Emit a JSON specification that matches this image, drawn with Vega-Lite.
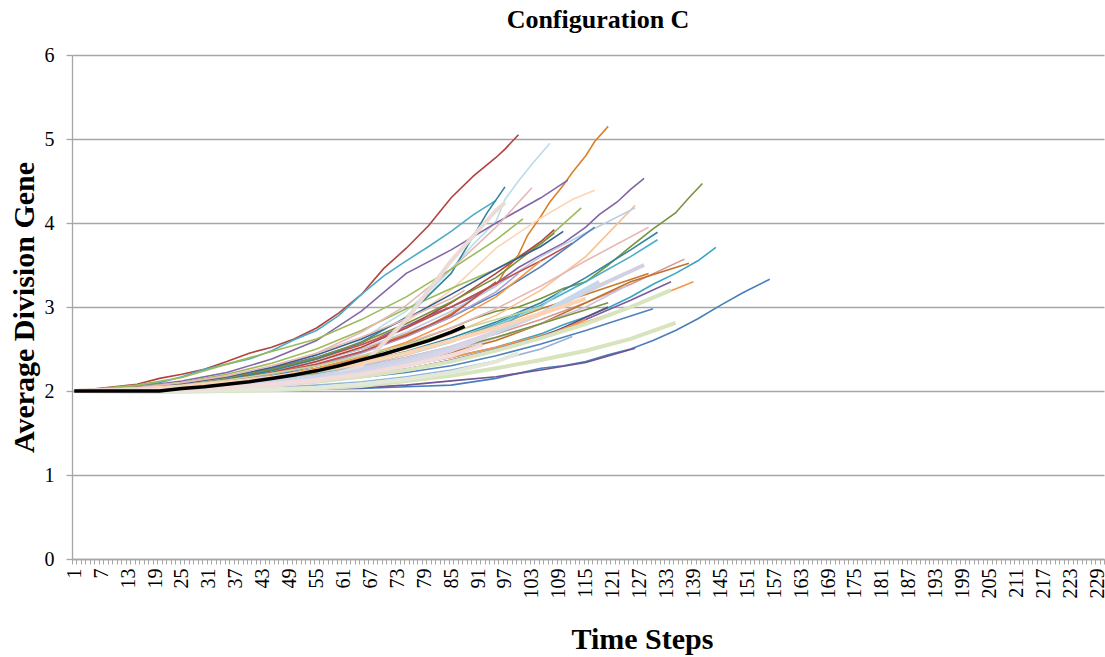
{
"$schema":"https://vega.github.io/schema/vega-lite/v6.json",
"width":1032,"height":504,
"autosize":{"type":"none"},
"padding":{"left":72,"top":55,"right":1,"bottom":98},
"background":"white",
"config":{"view":{"stroke":null},"font":"Liberation Serif","axis":{"labelFont":"Liberation Serif","labelFontSize":20,"labelColor":"#000"}},
"title":{"text":"Configuration C","font":"Liberation Serif","fontSize":26,"fontWeight":"bold","color":"#000","anchor":"middle","dx":10,"offset":12},
"data":{"values":[
{"s":"a01","t":1,"v":2},{"s":"a01","t":15,"v":2.08},{"s":"a01","t":25,"v":2.2},{"s":"a01","t":35,"v":2.35},{"s":"a01","t":45,"v":2.52},{"s":"a01","t":55,"v":2.75},{"s":"a01","t":65,"v":3.15},{"s":"a01","t":75,"v":3.7},{"s":"a01","t":85,"v":4.3},{"s":"a01","t":95,"v":4.78},{"s":"a01","t":100,"v":5.05},
{"s":"a02","t":1,"v":2},{"s":"a02","t":15,"v":2.06},{"s":"a02","t":25,"v":2.17},{"s":"a02","t":35,"v":2.32},{"s":"a02","t":45,"v":2.48},{"s":"a02","t":55,"v":2.72},{"s":"a02","t":65,"v":3.15},{"s":"a02","t":75,"v":3.55},{"s":"a02","t":85,"v":3.9},{"s":"a02","t":95,"v":4.27},
{"s":"a03","t":1,"v":2},{"s":"a03","t":15,"v":2.02},{"s":"a03","t":25,"v":2.06},{"s":"a03","t":35,"v":2.12},{"s":"a03","t":45,"v":2.22},{"s":"a03","t":55,"v":2.36},{"s":"a03","t":65,"v":2.6},{"s":"a03","t":75,"v":2.95},{"s":"a03","t":85,"v":3.45},{"s":"a03","t":95,"v":4.02},{"s":"a03","t":100,"v":4.5},{"s":"a03","t":107,"v":4.95},
{"s":"a04","t":1,"v":2},{"s":"a04","t":15,"v":2.02},{"s":"a04","t":25,"v":2.06},{"s":"a04","t":35,"v":2.13},{"s":"a04","t":45,"v":2.22},{"s":"a04","t":55,"v":2.35},{"s":"a04","t":65,"v":2.5},{"s":"a04","t":75,"v":2.68},{"s":"a04","t":85,"v":2.92},{"s":"a04","t":95,"v":3.25},{"s":"a04","t":100,"v":3.62},{"s":"a04","t":105,"v":4.08},{"s":"a04","t":110,"v":4.45},{"s":"a04","t":115,"v":4.8},{"s":"a04","t":120,"v":5.15},
{"s":"a05","t":1,"v":2},{"s":"a05","t":15,"v":2.03},{"s":"a05","t":25,"v":2.08},{"s":"a05","t":35,"v":2.16},{"s":"a05","t":45,"v":2.27},{"s":"a05","t":55,"v":2.4},{"s":"a05","t":65,"v":2.57},{"s":"a05","t":75,"v":2.77},{"s":"a05","t":85,"v":3.0},{"s":"a05","t":95,"v":3.28},{"s":"a05","t":105,"v":3.62},{"s":"a05","t":115,"v":3.95},{"s":"a05","t":122,"v":4.25},{"s":"a05","t":128,"v":4.53},
{"s":"a06","t":1,"v":2},{"s":"a06","t":15,"v":2.05},{"s":"a06","t":25,"v":2.12},{"s":"a06","t":35,"v":2.22},{"s":"a06","t":45,"v":2.38},{"s":"a06","t":55,"v":2.6},{"s":"a06","t":65,"v":2.95},{"s":"a06","t":75,"v":3.4},{"s":"a06","t":85,"v":3.68},{"s":"a06","t":95,"v":4.0},{"s":"a06","t":105,"v":4.3},{"s":"a06","t":111,"v":4.51},
{"s":"a07","t":1,"v":2},{"s":"a07","t":15,"v":2.02},{"s":"a07","t":25,"v":2.06},{"s":"a07","t":35,"v":2.12},{"s":"a07","t":45,"v":2.22},{"s":"a07","t":55,"v":2.36},{"s":"a07","t":65,"v":2.55},{"s":"a07","t":75,"v":2.82},{"s":"a07","t":85,"v":3.2},{"s":"a07","t":95,"v":3.7},{"s":"a07","t":105,"v":4.06},{"s":"a07","t":112,"v":4.28},{"s":"a07","t":117,"v":4.39},
{"s":"a08","t":1,"v":2},{"s":"a08","t":15,"v":2.02},{"s":"a08","t":25,"v":2.05},{"s":"a08","t":35,"v":2.1},{"s":"a08","t":45,"v":2.17},{"s":"a08","t":55,"v":2.27},{"s":"a08","t":65,"v":2.4},{"s":"a08","t":75,"v":2.56},{"s":"a08","t":85,"v":2.75},{"s":"a08","t":95,"v":2.95},{"s":"a08","t":105,"v":3.1},{"s":"a08","t":115,"v":3.3},{"s":"a08","t":125,"v":3.72},{"s":"a08","t":135,"v":4.12},{"s":"a08","t":141,"v":4.47},
{"s":"a09","t":1,"v":2},{"s":"a09","t":15,"v":2.02},{"s":"a09","t":25,"v":2.05},{"s":"a09","t":35,"v":2.1},{"s":"a09","t":45,"v":2.16},{"s":"a09","t":55,"v":2.25},{"s":"a09","t":65,"v":2.36},{"s":"a09","t":75,"v":2.5},{"s":"a09","t":85,"v":2.68},{"s":"a09","t":95,"v":2.9},{"s":"a09","t":105,"v":3.2},{"s":"a09","t":115,"v":3.6},{"s":"a09","t":126,"v":4.21},
{"s":"a10","t":1,"v":2},{"s":"a10","t":15,"v":2.03},{"s":"a10","t":25,"v":2.07},{"s":"a10","t":35,"v":2.14},{"s":"a10","t":45,"v":2.23},{"s":"a10","t":55,"v":2.35},{"s":"a10","t":65,"v":2.5},{"s":"a10","t":75,"v":2.7},{"s":"a10","t":85,"v":2.95},{"s":"a10","t":95,"v":3.25},{"s":"a10","t":105,"v":3.6},{"s":"a10","t":115,"v":3.88},{"s":"a10","t":126,"v":4.18},
{"s":"a11","t":1,"v":2},{"s":"a11","t":15,"v":2.05},{"s":"a11","t":25,"v":2.1},{"s":"a11","t":35,"v":2.2},{"s":"a11","t":45,"v":2.33},{"s":"a11","t":55,"v":2.5},{"s":"a11","t":65,"v":2.72},{"s":"a11","t":75,"v":2.98},{"s":"a11","t":85,"v":3.22},{"s":"a11","t":95,"v":3.45},{"s":"a11","t":105,"v":3.75},{"s":"a11","t":114,"v":4.18},
{"s":"a12","t":1,"v":2},{"s":"a12","t":15,"v":2.02},{"s":"a12","t":25,"v":2.05},{"s":"a12","t":35,"v":2.1},{"s":"a12","t":45,"v":2.16},{"s":"a12","t":55,"v":2.24},{"s":"a12","t":65,"v":2.34},{"s":"a12","t":75,"v":2.47},{"s":"a12","t":85,"v":2.63},{"s":"a12","t":95,"v":2.82},{"s":"a12","t":105,"v":3.05},{"s":"a12","t":115,"v":3.35},{"s":"a12","t":125,"v":3.68},{"s":"a12","t":131,"v":3.89},
{"s":"a13","t":1,"v":2},{"s":"a13","t":15,"v":2.03},{"s":"a13","t":25,"v":2.06},{"s":"a13","t":35,"v":2.12},{"s":"a13","t":45,"v":2.2},{"s":"a13","t":55,"v":2.3},{"s":"a13","t":65,"v":2.42},{"s":"a13","t":75,"v":2.57},{"s":"a13","t":85,"v":2.75},{"s":"a13","t":95,"v":2.98},{"s":"a13","t":105,"v":3.25},{"s":"a13","t":115,"v":3.55},{"s":"a13","t":129,"v":3.95},
{"s":"a14","t":1,"v":2},{"s":"a14","t":15,"v":2.02},{"s":"a14","t":25,"v":2.05},{"s":"a14","t":35,"v":2.09},{"s":"a14","t":45,"v":2.15},{"s":"a14","t":55,"v":2.22},{"s":"a14","t":65,"v":2.32},{"s":"a14","t":75,"v":2.44},{"s":"a14","t":85,"v":2.6},{"s":"a14","t":95,"v":2.8},{"s":"a14","t":105,"v":3.02},{"s":"a14","t":115,"v":3.3},{"s":"a14","t":125,"v":3.6},{"s":"a14","t":131,"v":3.8},
{"s":"a15","t":1,"v":2},{"s":"a15","t":15,"v":2.01},{"s":"a15","t":25,"v":2.03},{"s":"a15","t":35,"v":2.06},{"s":"a15","t":45,"v":2.1},{"s":"a15","t":55,"v":2.15},{"s":"a15","t":65,"v":2.22},{"s":"a15","t":75,"v":2.3},{"s":"a15","t":85,"v":2.4},{"s":"a15","t":95,"v":2.52},{"s":"a15","t":105,"v":2.68},{"s":"a15","t":115,"v":2.88},{"s":"a15","t":125,"v":3.12},{"s":"a15","t":135,"v":3.4},{"s":"a15","t":144,"v":3.71},
{"s":"a16","t":1,"v":2},{"s":"a16","t":15,"v":2.02},{"s":"a16","t":25,"v":2.04},{"s":"a16","t":35,"v":2.08},{"s":"a16","t":45,"v":2.13},{"s":"a16","t":55,"v":2.2},{"s":"a16","t":65,"v":2.29},{"s":"a16","t":75,"v":2.4},{"s":"a16","t":85,"v":2.53},{"s":"a16","t":95,"v":2.68},{"s":"a16","t":105,"v":2.85},{"s":"a16","t":115,"v":3.05},{"s":"a16","t":125,"v":3.27},{"s":"a16","t":137,"v":3.57},
{"s":"a17","t":1,"v":2},{"s":"a17","t":15,"v":2.01},{"s":"a17","t":25,"v":2.03},{"s":"a17","t":35,"v":2.06},{"s":"a17","t":45,"v":2.1},{"s":"a17","t":55,"v":2.16},{"s":"a17","t":65,"v":2.24},{"s":"a17","t":75,"v":2.34},{"s":"a17","t":85,"v":2.46},{"s":"a17","t":95,"v":2.6},{"s":"a17","t":105,"v":2.8},{"s":"a17","t":115,"v":3.05},{"s":"a17","t":125,"v":3.3},{"s":"a17","t":138,"v":3.52},
{"s":"a18","t":1,"v":2},{"s":"a18","t":15,"v":2.02},{"s":"a18","t":25,"v":2.04},{"s":"a18","t":35,"v":2.07},{"s":"a18","t":45,"v":2.11},{"s":"a18","t":55,"v":2.16},{"s":"a18","t":65,"v":2.22},{"s":"a18","t":75,"v":2.3},{"s":"a18","t":85,"v":2.4},{"s":"a18","t":95,"v":2.52},{"s":"a18","t":105,"v":2.66},{"s":"a18","t":115,"v":2.82},{"s":"a18","t":125,"v":3.0},{"s":"a18","t":139,"v":3.3},
{"s":"a19","t":1,"v":2},{"s":"a19","t":15,"v":2.01},{"s":"a19","t":25,"v":2.03},{"s":"a19","t":35,"v":2.05},{"s":"a19","t":45,"v":2.08},{"s":"a19","t":55,"v":2.12},{"s":"a19","t":65,"v":2.18},{"s":"a19","t":75,"v":2.26},{"s":"a19","t":85,"v":2.37},{"s":"a19","t":95,"v":2.5},{"s":"a19","t":105,"v":2.65},{"s":"a19","t":115,"v":2.85},{"s":"a19","t":125,"v":3.08},{"s":"a19","t":134,"v":3.3},
{"s":"a20","t":1,"v":2},{"s":"a20","t":15,"v":2.02},{"s":"a20","t":25,"v":2.04},{"s":"a20","t":35,"v":2.07},{"s":"a20","t":45,"v":2.12},{"s":"a20","t":55,"v":2.18},{"s":"a20","t":65,"v":2.27},{"s":"a20","t":75,"v":2.38},{"s":"a20","t":85,"v":2.52},{"s":"a20","t":95,"v":2.7},{"s":"a20","t":105,"v":2.92},{"s":"a20","t":115,"v":3.18},{"s":"a20","t":128,"v":3.5},
{"s":"a21","t":1,"v":2},{"s":"a21","t":15,"v":2.02},{"s":"a21","t":25,"v":2.05},{"s":"a21","t":35,"v":2.09},{"s":"a21","t":45,"v":2.15},{"s":"a21","t":55,"v":2.23},{"s":"a21","t":65,"v":2.33},{"s":"a21","t":75,"v":2.45},{"s":"a21","t":85,"v":2.6},{"s":"a21","t":95,"v":2.78},{"s":"a21","t":105,"v":2.98},{"s":"a21","t":115,"v":3.15},{"s":"a21","t":129,"v":3.4},
{"s":"a22","t":1,"v":2},{"s":"a22","t":15,"v":2.0},{"s":"a22","t":25,"v":2.01},{"s":"a22","t":35,"v":2.01},{"s":"a22","t":45,"v":2.02},{"s":"a22","t":55,"v":2.02},{"s":"a22","t":65,"v":2.03},{"s":"a22","t":75,"v":2.05},{"s":"a22","t":85,"v":2.07},{"s":"a22","t":95,"v":2.15},{"s":"a22","t":105,"v":2.27},{"s":"a22","t":115,"v":2.35},{"s":"a22","t":125,"v":2.5},{"s":"a22","t":135,"v":2.72},{"s":"a22","t":145,"v":3.02},{"s":"a22","t":156,"v":3.33},
{"s":"a23","t":1,"v":2},{"s":"a23","t":15,"v":1.99},{"s":"a23","t":25,"v":1.99},{"s":"a23","t":35,"v":2.0},{"s":"a23","t":45,"v":2.01},{"s":"a23","t":55,"v":2.03},{"s":"a23","t":65,"v":2.06},{"s":"a23","t":75,"v":2.12},{"s":"a23","t":85,"v":2.18},{"s":"a23","t":95,"v":2.27},{"s":"a23","t":105,"v":2.37},{"s":"a23","t":115,"v":2.48},{"s":"a23","t":125,"v":2.62},{"s":"a23","t":135,"v":2.81},
{"s":"a24","t":1,"v":2},{"s":"a24","t":15,"v":2.0},{"s":"a24","t":25,"v":2.0},{"s":"a24","t":35,"v":2.01},{"s":"a24","t":45,"v":2.02},{"s":"a24","t":55,"v":2.03},{"s":"a24","t":65,"v":2.04},{"s":"a24","t":75,"v":2.07},{"s":"a24","t":85,"v":2.12},{"s":"a24","t":95,"v":2.17},{"s":"a24","t":105,"v":2.25},{"s":"a24","t":115,"v":2.34},{"s":"a24","t":126,"v":2.51},
{"s":"a25","t":1,"v":2},{"s":"a25","t":15,"v":2.01},{"s":"a25","t":25,"v":2.02},{"s":"a25","t":35,"v":2.04},{"s":"a25","t":45,"v":2.07},{"s":"a25","t":55,"v":2.11},{"s":"a25","t":65,"v":2.16},{"s":"a25","t":75,"v":2.22},{"s":"a25","t":85,"v":2.3},{"s":"a25","t":95,"v":2.42},{"s":"a25","t":105,"v":2.56},{"s":"a25","t":115,"v":2.72},{"s":"a25","t":130,"v":2.98},
{"s":"a26","t":1,"v":2},{"s":"a26","t":15,"v":2.01},{"s":"a26","t":25,"v":2.02},{"s":"a26","t":35,"v":2.04},{"s":"a26","t":45,"v":2.07},{"s":"a26","t":55,"v":2.11},{"s":"a26","t":65,"v":2.17},{"s":"a26","t":75,"v":2.25},{"s":"a26","t":85,"v":2.35},{"s":"a26","t":95,"v":2.48},{"s":"a26","t":105,"v":2.63},{"s":"a26","t":115,"v":2.8},{"s":"a26","t":125,"v":3.0},{"s":"a26","t":134,"v":3.2},
{"s":"a27","t":1,"v":2},{"s":"a27","t":15,"v":2.0},{"s":"a27","t":25,"v":2.01},{"s":"a27","t":35,"v":2.03},{"s":"a27","t":45,"v":2.06},{"s":"a27","t":55,"v":2.12},{"s":"a27","t":65,"v":2.3},{"s":"a27","t":75,"v":2.85},{"s":"a27","t":85,"v":3.55},{"s":"a27","t":95,"v":4.15},{"s":"a27","t":97,"v":4.24},
{"s":"a28","t":1,"v":2},{"s":"a28","t":15,"v":2.03},{"s":"a28","t":25,"v":2.07},{"s":"a28","t":35,"v":2.13},{"s":"a28","t":45,"v":2.22},{"s":"a28","t":55,"v":2.35},{"s":"a28","t":65,"v":2.52},{"s":"a28","t":75,"v":2.75},{"s":"a28","t":85,"v":3.05},{"s":"a28","t":95,"v":3.4},{"s":"a28","t":105,"v":3.78},{"s":"a28","t":108,"v":3.92},
{"s":"a29","t":1,"v":2},{"s":"a29","t":15,"v":2.04},{"s":"a29","t":25,"v":2.08},{"s":"a29","t":35,"v":2.15},{"s":"a29","t":45,"v":2.25},{"s":"a29","t":55,"v":2.38},{"s":"a29","t":65,"v":2.55},{"s":"a29","t":75,"v":2.75},{"s":"a29","t":85,"v":3.0},{"s":"a29","t":95,"v":3.28},{"s":"a29","t":105,"v":3.55},{"s":"a29","t":112,"v":3.76},
{"s":"a30","t":1,"v":2},{"s":"a30","t":15,"v":2.03},{"s":"a30","t":25,"v":2.07},{"s":"a30","t":35,"v":2.14},{"s":"a30","t":45,"v":2.24},{"s":"a30","t":55,"v":2.38},{"s":"a30","t":65,"v":2.58},{"s":"a30","t":75,"v":2.88},{"s":"a30","t":85,"v":3.4},{"s":"a30","t":93,"v":4.12},{"s":"a30","t":97,"v":4.43},
{"s":"a31","t":1,"v":2},{"s":"a31","t":15,"v":2.03},{"s":"a31","t":25,"v":2.08},{"s":"a31","t":35,"v":2.16},{"s":"a31","t":45,"v":2.28},{"s":"a31","t":55,"v":2.45},{"s":"a31","t":65,"v":2.7},{"s":"a31","t":75,"v":3.02},{"s":"a31","t":85,"v":3.45},{"s":"a31","t":95,"v":3.95},{"s":"a31","t":103,"v":4.42},
{"s":"a32","t":1,"v":2},{"s":"a32","t":15,"v":2.02},{"s":"a32","t":25,"v":2.05},{"s":"a32","t":35,"v":2.1},{"s":"a32","t":45,"v":2.18},{"s":"a32","t":55,"v":2.3},{"s":"a32","t":65,"v":2.46},{"s":"a32","t":75,"v":2.65},{"s":"a32","t":85,"v":2.88},{"s":"a32","t":95,"v":3.15},{"s":"a32","t":105,"v":3.48},{"s":"a32","t":117,"v":3.95},
{"s":"a34","t":1,"v":2},{"s":"a34","t":15,"v":2.07},{"s":"a34","t":25,"v":2.16},{"s":"a34","t":35,"v":2.32},{"s":"a34","t":45,"v":2.47},{"s":"a34","t":55,"v":2.62},{"s":"a34","t":65,"v":2.85},{"s":"a34","t":75,"v":3.12},{"s":"a34","t":85,"v":3.45},{"s":"a34","t":95,"v":3.8},{"s":"a34","t":101,"v":4.05},
{"s":"a35","t":1,"v":2},{"s":"a35","t":15,"v":2.04},{"s":"a35","t":25,"v":2.09},{"s":"a35","t":35,"v":2.16},{"s":"a35","t":45,"v":2.26},{"s":"a35","t":55,"v":2.4},{"s":"a35","t":65,"v":2.58},{"s":"a35","t":75,"v":2.8},{"s":"a35","t":85,"v":3.06},{"s":"a35","t":95,"v":3.35},{"s":"a35","t":108,"v":3.88},
{"s":"a36","t":1,"v":2},{"s":"a36","t":15,"v":2.03},{"s":"a36","t":25,"v":2.06},{"s":"a36","t":35,"v":2.12},{"s":"a36","t":45,"v":2.2},{"s":"a36","t":55,"v":2.3},{"s":"a36","t":65,"v":2.45},{"s":"a36","t":75,"v":2.65},{"s":"a36","t":85,"v":2.88},{"s":"a36","t":95,"v":3.18},{"s":"a36","t":100,"v":3.4},
{"s":"a37","t":1,"v":2},{"s":"a37","t":15,"v":2.02},{"s":"a37","t":25,"v":2.05},{"s":"a37","t":35,"v":2.1},{"s":"a37","t":45,"v":2.17},{"s":"a37","t":55,"v":2.27},{"s":"a37","t":65,"v":2.4},{"s":"a37","t":75,"v":2.58},{"s":"a37","t":85,"v":2.82},{"s":"a37","t":95,"v":3.12},{"s":"a37","t":105,"v":3.55},
{"s":"a38","t":1,"v":2},{"s":"a38","t":15,"v":2.02},{"s":"a38","t":25,"v":2.04},{"s":"a38","t":35,"v":2.08},{"s":"a38","t":45,"v":2.14},{"s":"a38","t":55,"v":2.21},{"s":"a38","t":65,"v":2.3},{"s":"a38","t":75,"v":2.43},{"s":"a38","t":85,"v":2.58},{"s":"a38","t":95,"v":2.78},{"s":"a38","t":105,"v":3.0},{"s":"a38","t":110,"v":3.2},
{"s":"a39","t":1,"v":2},{"s":"a39","t":15,"v":2.01},{"s":"a39","t":25,"v":2.03},{"s":"a39","t":35,"v":2.06},{"s":"a39","t":45,"v":2.1},{"s":"a39","t":55,"v":2.16},{"s":"a39","t":65,"v":2.24},{"s":"a39","t":75,"v":2.35},{"s":"a39","t":85,"v":2.5},{"s":"a39","t":95,"v":2.7},{"s":"a39","t":105,"v":2.92},{"s":"a39","t":118,"v":3.3},
{"s":"a40","t":1,"v":2},{"s":"a40","t":15,"v":2.02},{"s":"a40","t":25,"v":2.05},{"s":"a40","t":35,"v":2.1},{"s":"a40","t":45,"v":2.16},{"s":"a40","t":55,"v":2.24},{"s":"a40","t":65,"v":2.33},{"s":"a40","t":75,"v":2.45},{"s":"a40","t":85,"v":2.6},{"s":"a40","t":95,"v":2.75},{"s":"a40","t":105,"v":2.92},{"s":"a40","t":115,"v":3.1},
{"s":"a41","t":1,"v":2},{"s":"a41","t":15,"v":2.01},{"s":"a41","t":25,"v":2.02},{"s":"a41","t":35,"v":2.05},{"s":"a41","t":45,"v":2.09},{"s":"a41","t":55,"v":2.14},{"s":"a41","t":65,"v":2.22},{"s":"a41","t":75,"v":2.33},{"s":"a41","t":85,"v":2.48},{"s":"a41","t":95,"v":2.7},
{"s":"a42","t":1,"v":2},{"s":"a42","t":15,"v":2.03},{"s":"a42","t":25,"v":2.07},{"s":"a42","t":35,"v":2.13},{"s":"a42","t":45,"v":2.21},{"s":"a42","t":55,"v":2.32},{"s":"a42","t":65,"v":2.47},{"s":"a42","t":75,"v":2.66},{"s":"a42","t":85,"v":2.9},{"s":"a42","t":95,"v":3.3},
{"s":"a43","t":1,"v":2},{"s":"a43","t":15,"v":2.04},{"s":"a43","t":25,"v":2.09},{"s":"a43","t":35,"v":2.17},{"s":"a43","t":45,"v":2.28},{"s":"a43","t":55,"v":2.43},{"s":"a43","t":65,"v":2.62},{"s":"a43","t":75,"v":2.86},{"s":"a43","t":85,"v":3.15},{"s":"a43","t":95,"v":3.45},{"s":"a43","t":105,"v":3.72},{"s":"a43","t":110,"v":3.9},
{"s":"a44","t":1,"v":2},{"s":"a44","t":15,"v":2.01},{"s":"a44","t":25,"v":2.03},{"s":"a44","t":35,"v":2.05},{"s":"a44","t":45,"v":2.08},{"s":"a44","t":55,"v":2.12},{"s":"a44","t":65,"v":2.18},{"s":"a44","t":75,"v":2.26},{"s":"a44","t":85,"v":2.36},{"s":"a44","t":95,"v":2.48},{"s":"a44","t":105,"v":2.63},{"s":"a44","t":120,"v":3.0},
{"s":"a45","t":1,"v":2},{"s":"a45","t":15,"v":2.01},{"s":"a45","t":25,"v":2.02},{"s":"a45","t":35,"v":2.04},{"s":"a45","t":45,"v":2.07},{"s":"a45","t":55,"v":2.11},{"s":"a45","t":65,"v":2.17},{"s":"a45","t":75,"v":2.25},{"s":"a45","t":85,"v":2.35},{"s":"a45","t":95,"v":2.48},{"s":"a45","t":105,"v":2.63},{"s":"a45","t":115,"v":2.85},
{"s":"a46","t":1,"v":2},{"s":"a46","t":15,"v":2.01},{"s":"a46","t":25,"v":2.03},{"s":"a46","t":35,"v":2.06},{"s":"a46","t":45,"v":2.1},{"s":"a46","t":55,"v":2.16},{"s":"a46","t":65,"v":2.24},{"s":"a46","t":75,"v":2.35},{"s":"a46","t":85,"v":2.5},{"s":"a46","t":95,"v":2.7},{"s":"a46","t":100,"v":2.9},
{"s":"a47","t":1,"v":2},{"s":"a47","t":15,"v":2.04},{"s":"a47","t":25,"v":2.1},{"s":"a47","t":35,"v":2.18},{"s":"a47","t":45,"v":2.3},{"s":"a47","t":55,"v":2.45},{"s":"a47","t":65,"v":2.64},{"s":"a47","t":75,"v":2.86},{"s":"a47","t":85,"v":3.1},{"s":"a47","t":88,"v":3.2},
{"s":"a48","t":1,"v":2},{"s":"a48","t":15,"v":2.02},{"s":"a48","t":25,"v":2.04},{"s":"a48","t":35,"v":2.07},{"s":"a48","t":45,"v":2.11},{"s":"a48","t":55,"v":2.17},{"s":"a48","t":65,"v":2.25},{"s":"a48","t":75,"v":2.35},{"s":"a48","t":85,"v":2.48},{"s":"a48","t":95,"v":2.63},{"s":"a48","t":105,"v":2.8},{"s":"a48","t":115,"v":3.0},{"s":"a48","t":124,"v":3.25},
{"s":"a49","t":1,"v":2},{"s":"a49","t":15,"v":2.02},{"s":"a49","t":25,"v":2.04},{"s":"a49","t":35,"v":2.08},{"s":"a49","t":45,"v":2.13},{"s":"a49","t":55,"v":2.2},{"s":"a49","t":65,"v":2.28},{"s":"a49","t":75,"v":2.38},{"s":"a49","t":85,"v":2.5},{"s":"a49","t":95,"v":2.64},{"s":"a49","t":105,"v":2.8},{"s":"a49","t":120,"v":3.05},
{"s":"a50","t":1,"v":2},{"s":"a50","t":15,"v":2.03},{"s":"a50","t":25,"v":2.07},{"s":"a50","t":35,"v":2.13},{"s":"a50","t":45,"v":2.21},{"s":"a50","t":55,"v":2.3},{"s":"a50","t":65,"v":2.42},{"s":"a50","t":75,"v":2.55},{"s":"a50","t":85,"v":2.7},{"s":"a50","t":95,"v":2.85},{"s":"a50","t":105,"v":3.0},
{"s":"a51","t":1,"v":2},{"s":"a51","t":15,"v":2.0},{"s":"a51","t":25,"v":2.0},{"s":"a51","t":35,"v":2.01},{"s":"a51","t":45,"v":2.02},{"s":"a51","t":55,"v":2.04},{"s":"a51","t":65,"v":2.08},{"s":"a51","t":75,"v":2.14},{"s":"a51","t":85,"v":2.22},{"s":"a51","t":95,"v":2.35},{"s":"a51","t":100,"v":2.45},
{"s":"a52","t":1,"v":2},{"s":"a52","t":15,"v":2.0},{"s":"a52","t":25,"v":2.01},{"s":"a52","t":35,"v":2.02},{"s":"a52","t":45,"v":2.04},{"s":"a52","t":55,"v":2.07},{"s":"a52","t":65,"v":2.11},{"s":"a52","t":75,"v":2.17},{"s":"a52","t":85,"v":2.25},{"s":"a52","t":95,"v":2.36},{"s":"a52","t":105,"v":2.5},{"s":"a52","t":112,"v":2.65},
{"s":"a54","t":1,"v":2},{"s":"a54","t":15,"v":2.01},{"s":"a54","t":25,"v":2.02},{"s":"a54","t":35,"v":2.04},{"s":"a54","t":45,"v":2.08},{"s":"a54","t":55,"v":2.13},{"s":"a54","t":65,"v":2.2},{"s":"a54","t":75,"v":2.3},{"s":"a54","t":85,"v":2.42},{"s":"a54","t":92,"v":2.55},
{"s":"avg","t":1,"v":2},{"s":"avg","t":20,"v":2.0},{"s":"avg","t":25,"v":2.03},{"s":"avg","t":30,"v":2.05},{"s":"avg","t":35,"v":2.08},{"s":"avg","t":40,"v":2.11},{"s":"avg","t":45,"v":2.15},{"s":"avg","t":50,"v":2.19},{"s":"avg","t":55,"v":2.24},{"s":"avg","t":60,"v":2.3},{"s":"avg","t":65,"v":2.37},{"s":"avg","t":70,"v":2.44},{"s":"avg","t":75,"v":2.52},{"s":"avg","t":80,"v":2.6},{"s":"avg","t":85,"v":2.7},{"s":"avg","t":88,"v":2.77},
{"s":"a01","t":20,"v":2.15},{"s":"a01","t":30,"v":2.26},{"s":"a01","t":40,"v":2.45},{"s":"a01","t":50,"v":2.62},{"s":"a01","t":60,"v":2.93},{"s":"a01","t":70,"v":3.46},{"s":"a01","t":80,"v":3.97},{"s":"a01","t":90,"v":4.56},{"s":"a01","t":97,"v":4.88},
{"s":"a02","t":20,"v":2.1},{"s":"a02","t":30,"v":2.26},{"s":"a02","t":40,"v":2.38},{"s":"a02","t":50,"v":2.61},{"s":"a02","t":60,"v":2.9},{"s":"a02","t":70,"v":3.37},{"s":"a02","t":80,"v":3.72},{"s":"a02","t":90,"v":4.1},
{"s":"a03","t":60,"v":2.47},{"s":"a03","t":70,"v":2.79},{"s":"a03","t":80,"v":3.18},{"s":"a03","t":90,"v":3.75},{"s":"a03","t":97,"v":4.28},{"s":"a03","t":103,"v":4.7},
{"s":"a04","t":60,"v":2.43},{"s":"a04","t":70,"v":2.58},{"s":"a04","t":80,"v":2.78},{"s":"a04","t":90,"v":3.1},{"s":"a04","t":97,"v":3.43},{"s":"a04","t":102,"v":3.85},{"s":"a04","t":107,"v":4.25},{"s":"a04","t":112,"v":4.6},{"s":"a04","t":117,"v":4.97},
{"s":"a05","t":80,"v":2.9},{"s":"a05","t":90,"v":3.12},{"s":"a05","t":100,"v":3.47},{"s":"a05","t":110,"v":3.76},{"s":"a05","t":118,"v":4.1},{"s":"a05","t":125,"v":4.4},
{"s":"a08","t":90,"v":2.86},{"s":"a08","t":100,"v":3.0},{"s":"a08","t":110,"v":3.22},{"s":"a08","t":120,"v":3.5},{"s":"a08","t":130,"v":3.93},{"s":"a08","t":138,"v":4.3},
{"s":"a22","t":100,"v":2.21},{"s":"a22","t":110,"v":2.3},{"s":"a22","t":120,"v":2.43},{"s":"a22","t":130,"v":2.6},{"s":"a22","t":140,"v":2.86},{"s":"a22","t":150,"v":3.17},
{"s":"a15","t":110,"v":2.79},{"s":"a15","t":120,"v":2.99},{"s":"a15","t":130,"v":3.27},{"s":"a15","t":140,"v":3.55}
]},
"encoding":{
"y":{"field":"v","type":"quantitative","scale":{"domain":[0,6],"nice":false},
"axis":{"values":[0,1,2,3,4,5,6],"grid":true,"gridColor":"#A6A6A6","gridWidth":1.3,"domainColor":"#A6A6A6","domainWidth":1.3,"tickColor":"#A6A6A6","tickSize":6,"tickWidth":1.3,"labelFont":"Liberation Serif","labelFontSize":20,"labelColor":"#000","labelPadding":12,"title":"Average Division Gene","titleFont":"Liberation Serif","titleFontSize":30,"titleFontWeight":"bold","titleColor":"#000","titlePadding":5}},
"color":{"field":"s","type":"nominal","legend":null,"scale":{
"domain":["a01","a02","a03","a04","a05","a06","a07","a08","a09","a10","a11","a12","a13","a14","a15","a16","a17","a18","a19","a20","a21","a22","a23","a24","a25","a26","a27","a28","a29","a30","a31","a32","a34","a35","a36","a37","a38","a39","a40","a41","a42","a43","a44","a45","a46","a47","a48","a49","a50","a51","a52","a54","avg"],
"range":["#B3423E","#4BACC6","#B7DEE8","#D9822B","#8064A2","#8466A6","#FCD5B5","#77933C","#FAC090","#B9CDE5","#9BBB59","#31859C","#E6B9B8","#4BACC6","#3AA5C2","#D99694","#C0722B","#F79646","#7A5C9E","#D3D0E4","#C47A2C","#4A7EBB","#D7E4BD","#6F5591","#4F81BD","#D7E4BD","#EADBD6","#B3423E","#C0504D","#31859C","#E6B9B8","#4F81BD","#9BBB59","#77933C","#B3A2C7","#F79646","#93CDDD","#C6D9EC","#FBD4B4","#DAD4E6","#C0504D","#376092","#604A7B","#F79646","#4BACC6","#E6B9B8","#CCC1DA","#77933C","#C3D69B","#E2E9D8","#95B3D7","#F2DCDB","#000000"]}}
},
"layer":[
{"transform":[{"filter":{"not":{"field":"s","oneOf":["a20","a23","a26","a27","a39","a40","a41","a51","a54","avg"]}}}],
"mark":{"type":"line","strokeWidth":1.6},
"encoding":{"x":{"field":"t","type":"quantitative","scale":{"domain":[0.5,230.5],"nice":false,"zero":false},
"axis":{"orient":"bottom","values":[0.5,1.5,2.5,3.5,4.5,5.5,6.5,7.5,8.5,9.5,10.5,11.5,12.5,13.5,14.5,15.5,16.5,17.5,18.5,19.5,20.5,21.5,22.5,23.5,24.5,25.5,26.5,27.5,28.5,29.5,30.5,31.5,32.5,33.5,34.5,35.5,36.5,37.5,38.5,39.5,40.5,41.5,42.5,43.5,44.5,45.5,46.5,47.5,48.5,49.5,50.5,51.5,52.5,53.5,54.5,55.5,56.5,57.5,58.5,59.5,60.5,61.5,62.5,63.5,64.5,65.5,66.5,67.5,68.5,69.5,70.5,71.5,72.5,73.5,74.5,75.5,76.5,77.5,78.5,79.5,80.5,81.5,82.5,83.5,84.5,85.5,86.5,87.5,88.5,89.5,90.5,91.5,92.5,93.5,94.5,95.5,96.5,97.5,98.5,99.5,100.5,101.5,102.5,103.5,104.5,105.5,106.5,107.5,108.5,109.5,110.5,111.5,112.5,113.5,114.5,115.5,116.5,117.5,118.5,119.5,120.5,121.5,122.5,123.5,124.5,125.5,126.5,127.5,128.5,129.5,130.5,131.5,132.5,133.5,134.5,135.5,136.5,137.5,138.5,139.5,140.5,141.5,142.5,143.5,144.5,145.5,146.5,147.5,148.5,149.5,150.5,151.5,152.5,153.5,154.5,155.5,156.5,157.5,158.5,159.5,160.5,161.5,162.5,163.5,164.5,165.5,166.5,167.5,168.5,169.5,170.5,171.5,172.5,173.5,174.5,175.5,176.5,177.5,178.5,179.5,180.5,181.5,182.5,183.5,184.5,185.5,186.5,187.5,188.5,189.5,190.5,191.5,192.5,193.5,194.5,195.5,196.5,197.5,198.5,199.5,200.5,201.5,202.5,203.5,204.5,205.5,206.5,207.5,208.5,209.5,210.5,211.5,212.5,213.5,214.5,215.5,216.5,217.5,218.5,219.5,220.5,221.5,222.5,223.5,224.5,225.5,226.5,227.5,228.5,229.5,230.5],
"labels":false,"grid":false,"tickSize":5,"tickColor":"#A6A6A6","tickWidth":1,"domainColor":"#A6A6A6","domainWidth":1.3,"title":null}}}},
{"transform":[{"filter":{"field":"s","oneOf":["a20","a23","a26","a27","a39","a40","a41","a51","a54"]}}],
"mark":{"type":"line","strokeWidth":4},
"encoding":{"x":{"field":"t","type":"quantitative","scale":{"domain":[0.5,230.5],"nice":false,"zero":false},
"axis":{"orient":"bottom","values":[1,7,13,19,25,31,37,43,49,55,61,67,73,79,85,91,97,103,109,115,121,127,133,139,145,151,157,163,169,175,181,187,193,199,205,211,217,223,229],
"ticks":false,"domain":false,"grid":false,"labelAngle":-90,"labelFont":"Liberation Serif","labelFontSize":20,"labelColor":"#000","labelPadding":9,"labelOverlap":false,"labelBound":false,
"title":"Time Steps","titleFont":"Liberation Serif","titleFontSize":30,"titleFontWeight":"bold","titleColor":"#000","titleX":570,"titleY":89,"titleBaseline":"alphabetic","titleAlign":"center"}}}},
{"transform":[{"filter":{"field":"s","equal":"avg"}}],
"mark":{"type":"line","strokeWidth":3.5},
"encoding":{"x":{"field":"t","type":"quantitative","scale":{"domain":[0.5,230.5],"nice":false,"zero":false},"axis":null}}}
],
"resolve":{"axis":{"x":"independent"}}
}
